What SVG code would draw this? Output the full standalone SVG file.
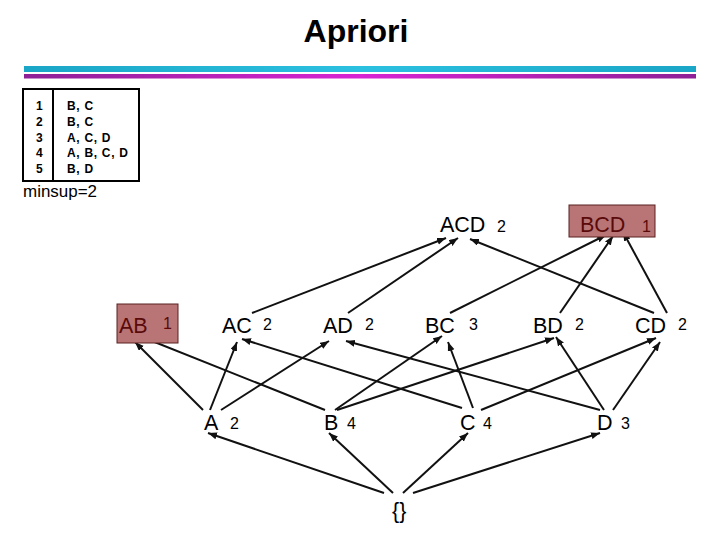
<svg xmlns="http://www.w3.org/2000/svg" width="720" height="540" viewBox="0 0 720 540">
<defs>
<linearGradient id="gc" x1="0" y1="0" x2="1" y2="0">
<stop offset="0" stop-color="#1aa6c6"/><stop offset="0.5" stop-color="#2cc0e0"/><stop offset="1" stop-color="#1aa6c6"/>
</linearGradient>
<linearGradient id="gm" x1="0" y1="0" x2="1" y2="0">
<stop offset="0" stop-color="#8e2096"/><stop offset="0.5" stop-color="#d824d4"/><stop offset="1" stop-color="#8e2096"/>
</linearGradient>
<marker id="ah" markerUnits="userSpaceOnUse" markerWidth="10" markerHeight="8" refX="9" refY="3.5" orient="auto">
<path d="M0,0 L9,3.5 L0,7 z" fill="#111"/>
</marker>
</defs>
<style>
.lbl{font-family:"Liberation Sans",Arial,sans-serif;font-size:21.5px;fill:#000}
.num{font-family:"Liberation Sans",Arial,sans-serif;font-size:16px;fill:#000}
.inf .lbl,.inf .num{fill:#5a0a0a}
.box{fill:#b97575;stroke:#5a2020;stroke-width:1}
.tb{font-family:"Liberation Sans",Arial,sans-serif;font-size:12px;font-weight:bold;letter-spacing:0.7px;fill:#000}
#edges line{stroke:#111;stroke-width:2;marker-end:url(#ah)}
</style>
<rect width="720" height="540" fill="#fff"/>
<text x="356" y="42" text-anchor="middle" font-family="'Liberation Sans',Arial,sans-serif" font-size="32" font-weight="bold">Apriori</text>
<rect x="24" y="66" width="672" height="6" fill="url(#gc)"/>
<rect x="24" y="74" width="672" height="4.5" fill="url(#gm)"/>
<g id="table">
<rect x="23" y="89" width="116" height="92" fill="none" stroke="#000" stroke-width="2"/>
<line x1="53" y1="89" x2="53" y2="181" stroke="#000" stroke-width="2"/>
<text class="tb" x="36" y="110">1</text><text class="tb" x="67" y="110">B, C</text>
<text class="tb" x="36" y="126">2</text><text class="tb" x="67" y="126">B, C</text>
<text class="tb" x="36" y="142">3</text><text class="tb" x="67" y="142">A, C, D</text>
<text class="tb" x="36" y="157">4</text><text class="tb" x="67" y="157">A, B, C, D</text>
<text class="tb" x="36" y="173">5</text><text class="tb" x="67" y="173">B, D</text>
</g>
<text x="23" y="197" font-family="'Liberation Sans',Arial,sans-serif" font-size="17" textLength="74" lengthAdjust="spacingAndGlyphs">minsup=2</text>
<g id="edges">
<line x1="384" y1="493" x2="208" y2="433"/>
<line x1="393" y1="493" x2="329" y2="433"/>
<line x1="403" y1="493" x2="468" y2="433"/>
<line x1="413" y1="493" x2="600" y2="433"/>
<line x1="203" y1="410" x2="135" y2="342"/>
<line x1="325" y1="410" x2="142" y2="337"/>
<line x1="210" y1="410" x2="237" y2="342"/>
<line x1="221" y1="410" x2="329" y2="341"/>
<line x1="462" y1="408" x2="242" y2="339"/>
<line x1="335" y1="410" x2="442" y2="336"/>
<line x1="337" y1="410" x2="554" y2="338"/>
<line x1="473" y1="408" x2="448" y2="342"/>
<line x1="481" y1="410" x2="656" y2="338"/>
<line x1="600" y1="410" x2="346" y2="341"/>
<line x1="604" y1="410" x2="556" y2="337"/>
<line x1="613" y1="410" x2="660" y2="342"/>
<line x1="252" y1="313" x2="446" y2="238"/>
<line x1="348" y1="313" x2="458" y2="238"/>
<line x1="654" y1="313" x2="470" y2="239"/>
<line x1="450" y1="313" x2="606" y2="235"/>
<line x1="560" y1="313" x2="613" y2="236"/>
<line x1="667" y1="313" x2="623" y2="232"/>
</g>
<g id="n-ACD"><text class="lbl" x="440" y="232">ACD</text><text class="num" x="497" y="232">2</text></g>
<g id="n-BCD" class="inf"><rect class="box" x="569" y="205" width="86" height="32"/><text class="lbl" x="580" y="232">BCD</text><text class="num" x="642" y="232">1</text></g>
<g id="n-AB" class="inf"><rect class="box" x="117" y="304" width="61" height="39"/><text class="lbl" x="119" y="333">AB</text><text class="num" x="163" y="329">1</text></g>
<g id="n-AC"><text class="lbl" x="222" y="333">AC</text><text class="num" x="263" y="330">2</text></g>
<g id="n-AD"><text class="lbl" x="323" y="333">AD</text><text class="num" x="365" y="330">2</text></g>
<g id="n-BC"><text class="lbl" x="425" y="333">BC</text><text class="num" x="469" y="330">3</text></g>
<g id="n-BD"><text class="lbl" x="533" y="333">BD</text><text class="num" x="575" y="330">2</text></g>
<g id="n-CD"><text class="lbl" x="635" y="333">CD</text><text class="num" x="678" y="330">2</text></g>
<g id="n-A"><text class="lbl" x="204" y="430">A</text><text class="num" x="230" y="429">2</text></g>
<g id="n-B"><text class="lbl" x="324" y="430">B</text><text class="num" x="347" y="429">4</text></g>
<g id="n-C"><text class="lbl" x="460" y="430">C</text><text class="num" x="483" y="429">4</text></g>
<g id="n-D"><text class="lbl" x="597" y="430">D</text><text class="num" x="621" y="429">3</text></g>
<g id="n-empty"><text class="lbl" x="392" y="518">{}</text></g>
</svg>
